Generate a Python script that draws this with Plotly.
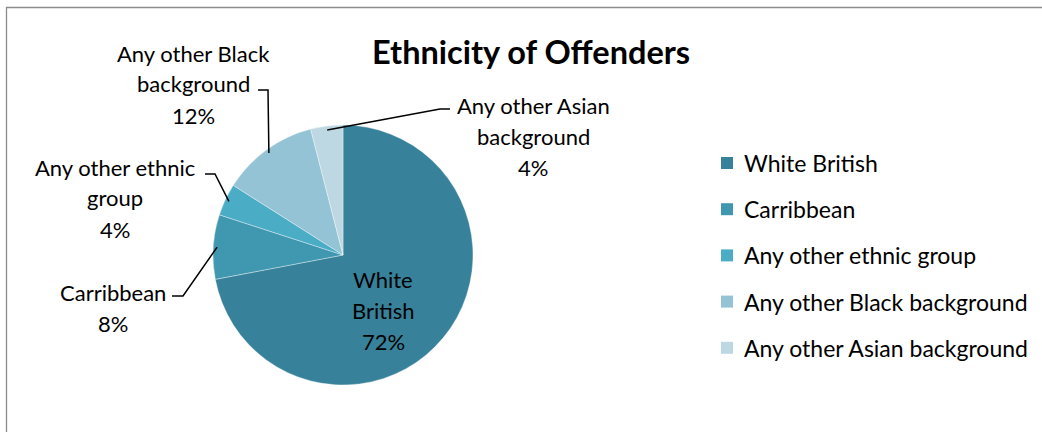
import math
import plotly.graph_objects as go

W, H = 1042, 432

# ---- data ----
categories = ["White British", "Carribbean", "Any other ethnic group",
              "Any other Black background", "Any other Asian background"]
values = [72, 8, 4, 12, 4]
colors = ["#37829A", "#4097B0", "#4BACC6", "#93C3D5", "#BDD8E3"]
title_text = "Ethnicity of Offenders"

# label text lines per slice (as shown on the chart)
label_lines = [
    ["White", "British", "72%"],
    ["Carribbean", "8%"],
    ["Any other ethnic", "group", "4%"],
    ["Any other Black", "background", "12%"],
    ["Any other Asian", "background", "4%"],
]

# ---- layout constants (pixels) ----
CX, CY, R = 343, 255, 130
FONT = "Lato, 'Open Sans', Arial, sans-serif"
FS = 22
LEG_FS = 23
LINE_GAP = 31
# label block centre (x, y of first line)
label_pos = [(383, 279), (113, 292), (115, 167), (193, 53), (533, 105)]
# leader knee points (text-side), ending on slice midpoint computed from data
leader_knees = [None,
                [(172, 296), (183, 296)],
                [(205, 174), (215, 174)],
                [(258, 90), (268, 90)],
                [(450, 109), (440, 109)]]


def px(x):
    return x / W


def py(y):
    return 1 - y / H


fig = go.Figure()
fig.add_trace(go.Pie(
    labels=categories,
    values=values,
    sort=False,
    direction="clockwise",
    rotation=0,
    marker=dict(colors=colors, line=dict(color="rgba(255,255,255,0.45)", width=0.8)),
    textinfo="none",
    hoverinfo="label+percent",
    showlegend=False,
    domain=dict(x=[px(CX - R), px(CX + R)], y=[py(CY + R), py(CY - R)]),
))

annotations = []
shapes = []

# slice labels
for i, lines in enumerate(label_lines):
    lx, ly = label_pos[i]
    for j, t in enumerate(lines):
        annotations.append(dict(
            x=px(lx), y=py(ly + j * LINE_GAP), xref="paper", yref="paper",
            text=t, showarrow=False, xanchor="center", yanchor="middle",
            font=dict(family=FONT, size=FS, color="#000000"),
        ))

# leader lines to slice midpoints computed from data
total = sum(values)
cum = 0
for i, v in enumerate(values):
    mid = (cum + v / 2) / total * 2 * math.pi
    cum += v
    knees = leader_knees[i]
    if not knees:
        continue
    ex = CX + R * 0.97 * math.sin(mid)
    ey = CY - R * 0.97 * math.cos(mid)
    pts = knees + [(ex, ey)]
    path = "M " + " L ".join(f"{px(x)},{py(y)}" for x, y in pts)
    shapes.append(dict(type="path", xref="paper", yref="paper", path=path,
                       line=dict(color="#000000", width=1.5)))

# manual legend
LEG_X, LEG_Y0, LEG_DY, SQ = 721, 163, 46.2, 12
for i, (c, name) in enumerate(zip(colors, categories)):
    yc = LEG_Y0 + i * LEG_DY
    shapes.append(dict(type="rect", xref="paper", yref="paper",
                       x0=px(LEG_X), x1=px(LEG_X + SQ),
                       y0=py(yc + SQ / 2), y1=py(yc - SQ / 2),
                       fillcolor=c, line=dict(width=0)))
    annotations.append(dict(
        x=px(LEG_X + SQ + 9), y=py(yc), xref="paper", yref="paper",
        text=name, showarrow=False, xanchor="left", yanchor="middle",
        font=dict(family=FONT, size=LEG_FS, color="#000000"),
    ))

# title
annotations.append(dict(
    x=px(531), y=py(52), xref="paper", yref="paper",
    text=f"<b>{title_text}</b>", showarrow=False, xanchor="center", yanchor="middle",
    font=dict(family=FONT, size=32.5, color="#000000"),
))

# chart border (top & left visible)
shapes.append(dict(type="rect", xref="paper", yref="paper",
                   x0=px(6.5), x1=px(W + 10), y0=py(H + 10), y1=py(7.5),
                   line=dict(color="#8C8C8C", width=1.3), fillcolor="rgba(0,0,0,0)"))

fig.update_layout(
    width=W, height=H, autosize=False,
    margin=dict(l=0, r=0, t=0, b=0),
    paper_bgcolor="white", plot_bgcolor="white",
    annotations=annotations, shapes=shapes,
)

fig.write_html("out.html")
